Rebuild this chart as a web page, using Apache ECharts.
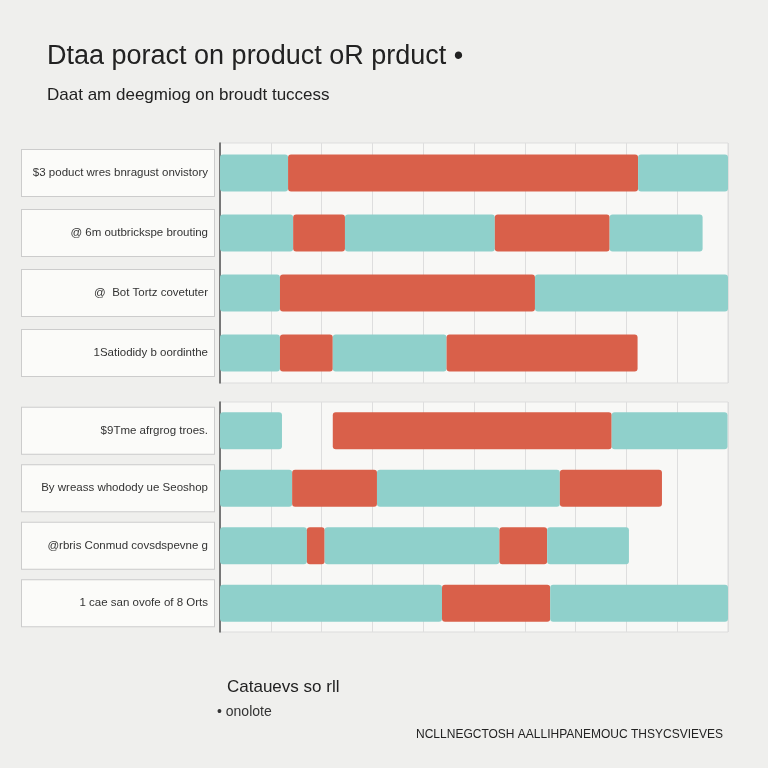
<!DOCTYPE html>
<html>
<head>
<meta charset="utf-8">
<script src="https://cdn.jsdelivr.net/npm/echarts@6/dist/echarts.min.js"></script>
<style>
  html, body { margin: 0; padding: 0; background: #efefed; }
  #main { width: 768px; height: 768px; }
</style>
</head>
<body>
<div id="main"></div>
<script>
// row labels, top panel then bottom panel
var labelsTop = ['$3 poduct wres bnragust onvistory', '@ 6m outbrickspe brouting', '@  Bot Tortz covetuter', '1Satiodidy b oordinthe'];
var labelsBottom = ['$9Tme afrgrog troes.', 'By wreass whodody ue Seoshop', '@rbris Conmud covsdspevne g', '1 cae san ovofe of 8 Orts'];

// segments per row: kind (T = teal, R = red, G = empty gap) and length on a 0-100 scale
var segKinds = [
  ['T', 'R', 'T'],
  ['T', 'R', 'T', 'R', 'T'],
  ['T', 'R', 'T'],
  ['T', 'R', 'T', 'R'],
  ['T', 'G', 'R', 'T'],
  ['T', 'R', 'T', 'R'],
  ['T', 'R', 'T', 'R', 'T'],
  ['T', 'R', 'T']
];
var segLengths = [
  [13.4, 68.9, 17.7],
  [14.4, 10.2, 29.5, 22.6, 18.3],
  [11.8, 50.2, 38.0],
  [11.8, 10.4, 22.4, 37.6],
  [12.2, 10.0, 54.9, 22.8],
  [14.2, 16.7, 36.0, 20.1],
  [17.1, 3.5, 34.4, 9.4, 16.1],
  [43.7, 21.3, 35.0]
];

var colors = { T: '#8fd0cb', R: '#d9604a', G: 'transparent' };

var series = [];
function addPanel(rowOffset, gridIndex) {
  for (var s = 0; s < 5; s++) {
    var data = [], kinds = [];
    for (var r = 0; r < 4; r++) {
      var row = rowOffset + r;
      data.push(segLengths[row][s] !== undefined ? segLengths[row][s] : 0);
      kinds.push(segKinds[row][s] || 'G');
    }
    (function (kinds) {
      series.push({
        type: 'bar', stack: 'p' + gridIndex, xAxisIndex: gridIndex, yAxisIndex: gridIndex,
        barWidth: 37, data: data,
        itemStyle: { color: function (p) { return colors[kinds[p.dataIndex]]; }, borderRadius: 3 }
      });
    })(kinds);
  }
}
addPanel(0, 0);
addPanel(4, 1);

function yAxis(labels, idx) {
  return {
    type: 'category', gridIndex: idx, inverse: true, data: labels,
    axisLine: { show: true, lineStyle: { color: '#555', width: 1.5 } }, axisTick: { show: false },
    axisLabel: {
      color: '#333', fontSize: 11.5, fontFamily: 'Liberation Sans', width: 180, overflow: 'truncate',
      backgroundColor: '#fbfbf9', padding: [17, 6, 17, 6], borderColor: '#ccc', borderWidth: 1, margin: 6
    }
  };
}
function xAxis(idx) {
  return {
    type: 'value', gridIndex: idx, min: 0, max: 100, interval: 10,
    axisLabel: { show: false }, axisLine: { show: false }, axisTick: { show: false },
    splitLine: { show: true, lineStyle: { color: '#dedede' } }
  };
}

var chart = echarts.init(document.getElementById('main'));
chart.setOption({
  backgroundColor: '#efefed',
  animation: false,
  title: [
    { text: 'Dtaa poract on product oR prduct •', left: 42, top: 38, textStyle: { fontSize: 27, fontWeight: 'normal', color: '#222', fontFamily: 'Liberation Sans' } },
    { text: 'Daat am deegmiog on broudt tuccess', left: 42, top: 82, textStyle: { fontSize: 17, fontWeight: 'normal', color: '#222', fontFamily: 'Liberation Sans' } },
    { text: 'Catauevs so rll', left: 222, top: 674, textStyle: { fontSize: 17, fontWeight: 'normal', color: '#222', fontFamily: 'Liberation Sans' } },
    { text: '• onolote', left: 212, top: 700, textStyle: { fontSize: 14, fontWeight: 'normal', color: '#333', fontFamily: 'Liberation Sans' } },
    { text: 'NCLLNEGCTOSH AALLIHPANEMOUC THSYCSVIEVES', right: 40, top: 724, textStyle: { fontSize: 12, fontWeight: 'normal', color: '#222', fontFamily: 'Liberation Sans' } }
  ],
  grid: [
    { left: 220, right: 40, top: 143, height: 240, backgroundColor: '#f8f8f6', show: true, borderColor: '#ddd' },
    { left: 220, right: 40, top: 402, height: 230, backgroundColor: '#f8f8f6', show: true, borderColor: '#ddd' }
  ],
  xAxis: [xAxis(0), xAxis(1)],
  yAxis: [yAxis(labelsTop, 0), yAxis(labelsBottom, 1)],
  series: series
});
</script>
</body>
</html>
